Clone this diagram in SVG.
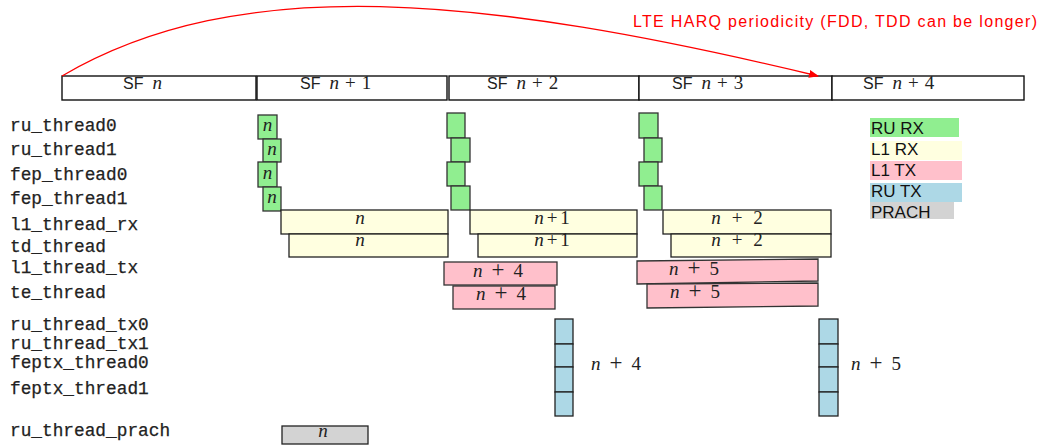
<svg xmlns="http://www.w3.org/2000/svg" width="1044" height="446" viewBox="0 0 1044 446">
<style>
.lbl{font-family:"Liberation Mono",monospace;font-size:17.8px;fill:#222;stroke:#222;stroke-width:0.25}
.m{font-family:"Liberation Serif",serif;font-size:19px;fill:#222;text-anchor:middle}
.i{font-style:italic}
.pl{font-size:23px}
.mm{font-family:"Liberation Serif",serif;font-size:19px}
.sf{font-family:"Liberation Sans",sans-serif;font-size:16px;fill:#222}
.sfc{fill:#fff;stroke:#111;stroke-width:1.4}
.g{fill:#90ee90;stroke:#333;stroke-width:1.3}
.y{fill:#ffffe0;stroke:#222;stroke-width:1.3}
.p{fill:#ffc0cb;stroke:#333;stroke-width:1.3}
.b{fill:#add8e6;stroke:#222;stroke-width:1.3}
.gr{fill:#d3d3d3;stroke:#222;stroke-width:1.3}
.leg{font-family:"Liberation Sans",sans-serif;font-size:17px;fill:#111}
</style>
<defs>
<marker id="ah" markerWidth="10" markerHeight="8" refX="9" refY="4" orient="auto" markerUnits="userSpaceOnUse">
<path d="M0,0 L10,4 L0,8 Z" fill="#f00"/>
</marker>
</defs>

<g id="subframes">
<rect class="sfc" x="62" y="76" width="194" height="24"/>
<rect class="sfc" x="257" y="76" width="190" height="24"/>
<rect class="sfc" x="449" y="76" width="190" height="24"/>
<rect class="sfc" x="639" y="76" width="193" height="24"/>
<rect class="sfc" x="832" y="76" width="192" height="24"/>
<text class="sf" x="123" y="89">SF<tspan class="mm i" dx="9">n</tspan></text>
<text class="sf" x="300" y="89">SF<tspan class="mm i" dx="9">n</tspan><tspan class="mm pl" dx="6">+</tspan><tspan class="mm" dx="6">1</tspan></text>
<text class="sf" x="487" y="89">SF<tspan class="mm i" dx="9">n</tspan><tspan class="mm pl" dx="6">+</tspan><tspan class="mm" dx="6">2</tspan></text>
<text class="sf" x="672" y="89">SF<tspan class="mm i" dx="9">n</tspan><tspan class="mm pl" dx="6">+</tspan><tspan class="mm" dx="6">3</tspan></text>
<text class="sf" x="863" y="89">SF<tspan class="mm i" dx="9">n</tspan><tspan class="mm pl" dx="6">+</tspan><tspan class="mm" dx="6">4</tspan></text>
</g>

<g id="row-labels">
<text class="lbl" x="10" y="131">ru_thread0</text>
<text class="lbl" x="10" y="155">ru_thread1</text>
<text class="lbl" x="10" y="180">fep_thread0</text>
<text class="lbl" x="10" y="204">fep_thread1</text>
<text class="lbl" x="10" y="230">l1_thread_rx</text>
<text class="lbl" x="10" y="252">td_thread</text>
<text class="lbl" x="10" y="273">l1_thread_tx</text>
<text class="lbl" x="10" y="298">te_thread</text>
<text class="lbl" x="10" y="330">ru_thread_tx0</text>
<text class="lbl" x="10" y="349">ru_thread_tx1</text>
<text class="lbl" x="10" y="368">feptx_thread0</text>
<text class="lbl" x="10" y="394">feptx_thread1</text>
<text class="lbl" x="10" y="436">ru_thread_prach</text>
</g>

<g id="ru-rx-n">
<rect class="g" x="258" y="115" width="19" height="24"/>
<rect class="g" x="263" y="139" width="18" height="23"/>
<rect class="g" x="258" y="162" width="19" height="25"/>
<rect class="g" x="263" y="187" width="18" height="24"/>
<text class="m i" x="267.5" y="131">n</text>
<text class="m i" x="272" y="155">n</text>
<text class="m i" x="267.5" y="179">n</text>
<text class="m i" x="272" y="203">n</text>
</g>

<g id="ru-rx-n1">
<rect class="g" x="447" y="113" width="18" height="25"/>
<rect class="g" x="451" y="138" width="19" height="24"/>
<rect class="g" x="447" y="162" width="18" height="24"/>
<rect class="g" x="451" y="186" width="19" height="24"/>
</g>

<g id="ru-rx-n2">
<rect class="g" x="639" y="113" width="19" height="25"/>
<rect class="g" x="644" y="138" width="18" height="24"/>
<rect class="g" x="639" y="162" width="19" height="24"/>
<rect class="g" x="644" y="186" width="18" height="24"/>
</g>

<g id="l1-rx-n">
<rect class="y" x="281" y="210" width="167" height="24"/>
<rect class="y" x="289" y="234" width="159" height="23"/>
<text class="m i" x="360" y="224">n</text>
<text class="m i" x="360" y="246">n</text>
</g>

<g id="l1-rx-n1">
<rect class="y" x="470" y="210" width="167" height="24"/>
<rect class="y" x="478" y="234" width="159" height="23"/>
<text class="m" x="552" y="224"><tspan class="i">n</tspan><tspan dx="3">+</tspan><tspan dx="3">1</tspan></text>
<text class="m" x="552" y="246"><tspan class="i">n</tspan><tspan dx="3">+</tspan><tspan dx="3">1</tspan></text>
</g>

<g id="l1-rx-n2">
<rect class="y" x="663" y="210" width="168" height="24"/>
<rect class="y" x="671" y="234" width="160" height="23"/>
<text class="m" x="737" y="224"><tspan class="i">n</tspan><tspan dx="11">+</tspan><tspan dx="11">2</tspan></text>
<text class="m" x="737" y="246"><tspan class="i">n</tspan><tspan dx="11">+</tspan><tspan dx="11">2</tspan></text>
</g>

<g id="l1-tx-n4">
<rect class="p" x="444" y="262" width="113" height="23"/>
<rect class="p" x="453" y="286" width="102" height="23"/>
<text class="m" x="498" y="277"><tspan class="i">n</tspan><tspan class="pl" dx="9">+</tspan><tspan dx="9">4</tspan></text>
<text class="m" x="501" y="300"><tspan class="i">n</tspan><tspan class="pl" dx="9">+</tspan><tspan dx="9">4</tspan></text>
</g>

<g id="l1-tx-n5">
<polygon class="p" points="637,261 818,259 818,281 637,284"/>
<polygon class="p" points="647,284 818,283 818,306 647,308"/>
<text class="m" x="694" y="275"><tspan class="i">n</tspan><tspan class="pl" dx="9">+</tspan><tspan dx="9">5</tspan></text>
<text class="m" x="695" y="298"><tspan class="i">n</tspan><tspan class="pl" dx="9">+</tspan><tspan dx="9">5</tspan></text>
</g>

<g id="ru-tx-n4">
<rect class="b" x="555" y="319" width="18" height="25"/>
<rect class="b" x="555" y="344" width="18" height="23"/>
<rect class="b" x="555" y="367" width="18" height="25"/>
<rect class="b" x="555" y="392" width="18" height="24"/>
<text class="m" x="616" y="370"><tspan class="i">n</tspan><tspan class="pl" dx="9">+</tspan><tspan dx="9">4</tspan></text>
</g>

<g id="ru-tx-n5">
<rect class="b" x="819" y="319" width="19" height="25"/>
<rect class="b" x="819" y="344" width="19" height="23"/>
<rect class="b" x="819" y="367" width="19" height="25"/>
<rect class="b" x="819" y="392" width="19" height="24"/>
<text class="m" x="876" y="370"><tspan class="i">n</tspan><tspan class="pl" dx="9">+</tspan><tspan dx="9">5</tspan></text>
</g>

<g id="prach-n">
<rect class="gr" x="282" y="426" width="86" height="18"/>
<text class="m i" x="323" y="437">n</text>
</g>

<g id="legend">
<rect x="870" y="118" width="89" height="19" fill="#90ee90"/>
<rect x="870" y="141" width="92" height="19" fill="#ffffe0"/>
<rect x="870" y="161" width="92" height="19" fill="#ffc0cb"/>
<rect x="870" y="183" width="92" height="19" fill="#add8e6"/>
<rect x="870" y="202" width="84" height="17" fill="#d3d3d3"/>
<text class="leg" x="871" y="134">RU RX</text>
<text class="leg" x="871" y="155">L1 RX</text>
<text class="leg" x="871" y="176">L1 TX</text>
<text class="leg" x="871" y="197">RU TX</text>
<text class="leg" x="871" y="218">PRACH</text>
</g>

<g id="connectors">
<path d="M62,76 C240,-28 480,-5 818,76" fill="none" stroke="#f00" stroke-width="1.3" marker-end="url(#ah)"/>
<text x="633" y="27" font-family="Liberation Sans, sans-serif" font-size="16" fill="#f00" textLength="404" lengthAdjust="spacing">LTE HARQ periodicity (FDD, TDD can be longer)</text>
</g>
</svg>
